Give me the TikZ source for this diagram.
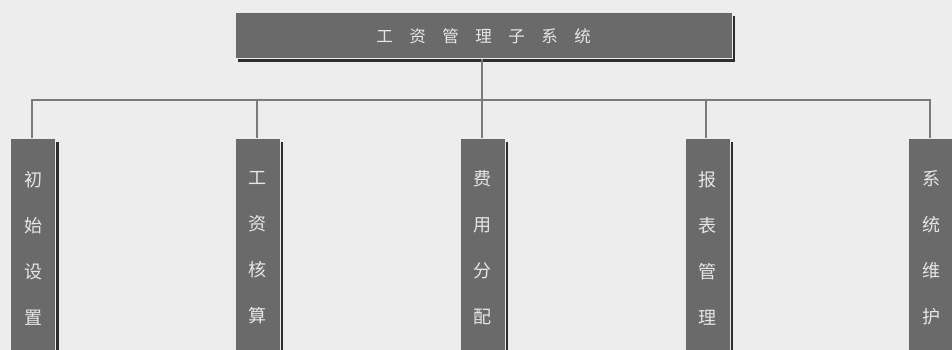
\documentclass[tikz,border=0pt]{standalone}
\usepackage{fontspec}
\newfontfamily\cjk{Noto Sans CJK SC}
\usetikzlibrary{shadows}
\definecolor{bgc}{HTML}{EDEDED}
\definecolor{boxc}{HTML}{6A6A6A}
\definecolor{txtc}{HTML}{E6E6E6}
\definecolor{linec}{HTML}{7A7A7A}
\definecolor{shc}{HTML}{2E2E2E}
\tikzset{
  boxbase/.style={fill=boxc, draw=white!92!black, line width=1pt, inner sep=0pt,
    drop shadow={shadow xshift=3pt, shadow yshift=-3pt, fill=shc, opacity=1}},
  topbox/.style={boxbase, minimum width=497pt, minimum height=46pt,
    font=\cjk\fontsize{16.5}{18}\selectfont, text=txtc},
  vbox/.style={boxbase, minimum width=45pt, minimum height=219pt, align=center,
    font=\cjk\fontsize{18}{46}\selectfont, text=txtc},
  conn/.style={draw=linec, line width=1.4pt}
}
\newcommand{\vsp}{\hspace{16.5pt}}
\begin{document}
\begin{tikzpicture}[x=1pt,y=-1pt]
\fill[bgc] (0,0) rectangle (952,350);
\useasboundingbox (0,0) rectangle (952,350);
\node[topbox] (top) at (483.5,36) {工\vsp 资\vsp 管\vsp 理\vsp 子\vsp 系\vsp 统};
\node[vbox, anchor=north] (b1) at (33,138) {初\\始\\设\\置};
\node[vbox, anchor=north] (b2) at (257.5,138) {工\\资\\核\\算};
\node[vbox, anchor=north] (b3) at (482.5,138) {费\\用\\分\\配};
\node[vbox, anchor=north] (b4) at (707.5,138) {报\\表\\管\\理};
\node[vbox, anchor=north] (b5) at (931,138) {系\\统\\维\\护};
\coordinate (bus) at (482,100);
\draw[conn] (top.south -| bus) -- (bus);
\foreach \b/\x in {b1/32,b2/257,b3/482,b4/706,b5/930}{
  \draw[conn] (\x,100) -- (\b.north -| {(\x,0)});
}
\draw[conn] (b1.north -| {(32,0)}) |- (bus);
\draw[conn] (bus) -| (b5.north -| {(930,0)});
\end{tikzpicture}
\end{document}
